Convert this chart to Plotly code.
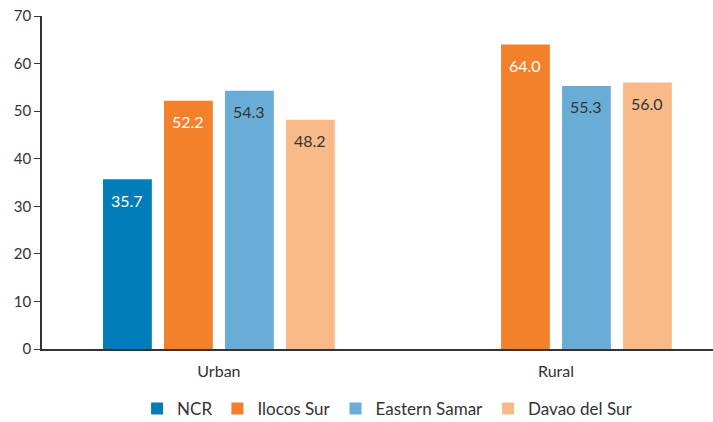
import plotly.graph_objects as go

categories = ["Urban", "Rural"]
series_names = ["NCR", "Ilocos Sur", "Eastern Samar", "Davao del Sur"]
ncr = [35.7, None]
ilocos_sur = [52.2, 64.0]
eastern_samar = [54.3, 55.3]
davao_del_sur = [48.2, 56.0]
y_ticks = [0, 10, 20, 30, 40, 50, 60, 70]

values = [ncr, ilocos_sur, eastern_samar, davao_del_sur]
colors = ["#007DB8", "#F3802B", "#69ADD6", "#F9BA8A"]
label_colors = ["white", "white", "#333333", "#333333"]

fig = go.Figure()
for name, vals, col in zip(series_names, values, colors):
    fig.add_trace(go.Bar(x=categories, y=vals, name=name, marker_color=col,
                         marker_line_width=0))

# value labels inside bars near top
step = 61
for i, (vals, lc) in enumerate(zip(values, label_colors)):
    for cat, v in zip(categories, vals):
        if v is None:
            continue
        fig.add_annotation(x=cat, y=v, text=f"{v:.1f}", showarrow=False,
                           xshift=(i - 1.5) * step, yshift=-21,
                           font=dict(size=16, color=lc, family="Lato"))

fig.update_layout(
    width=713, height=422,
    margin=dict(l=42, r=0, t=16, b=73, autoexpand=False),
    plot_bgcolor="white", paper_bgcolor="white",
    barmode="group", bargap=0.276, bargroupgap=0.2,
    font=dict(family="Lato", size=16, color="#333333"),
    showlegend=True,
    legend=dict(orientation="h", x=0.515, xanchor="center", y=-0.18, yanchor="middle",
                font=dict(size=17, color="#333333"), itemwidth=30, traceorder="normal"),
    xaxis=dict(range=[-0.525, 1.466], showline=True, linecolor="#333333", linewidth=1.5,
               ticks="", tickfont=dict(size=16, color="#333333"), showgrid=False,
               ticklabelstandoff=7),
    yaxis=dict(range=[0, 70], tickvals=y_ticks, showline=True, linecolor="#333333",
               linewidth=1.5, ticks="outside", ticklen=6, tickcolor="#333333",
               showgrid=False, zeroline=False, tickfont=dict(size=15, color="#333333"),
               ticklabeloverflow="allow"),
)

fig.write_html("out.html", config={"displayModeBar": False},
               post_script="document.body.style.margin='0px';")
